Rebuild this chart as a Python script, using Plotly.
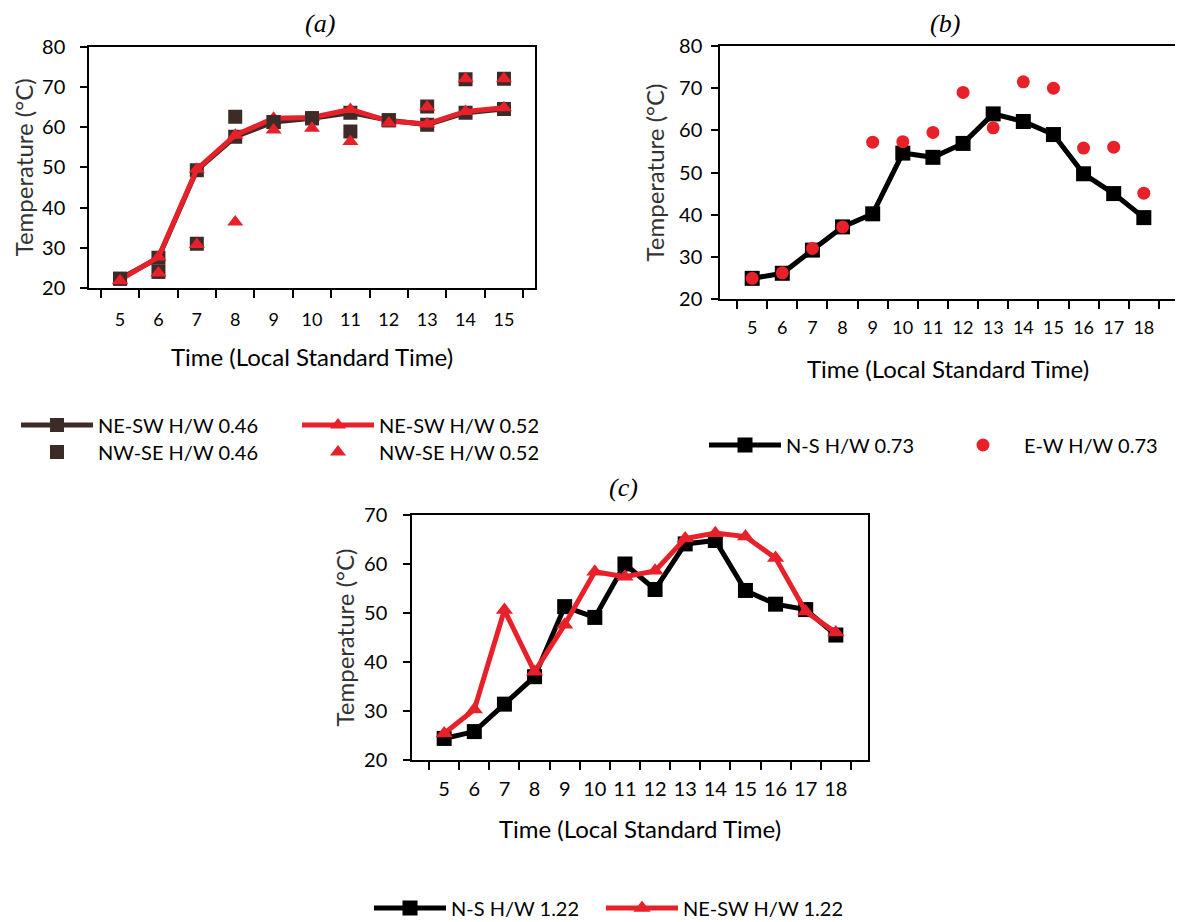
import plotly.graph_objects as go

# ---------------- data ----------------
hours_a = ["5", "6", "7", "8", "9", "10", "11", "12", "13", "14", "15"]
ne_sw_046 = [22.3, 27.5, 49.3, 57.6, 61.3, 62.2, 63.6, 61.7, 60.6, 63.6, 64.5]
ne_sw_052 = [22.0, 27.7, 49.5, 58.0, 62.2, 62.4, 64.4, 61.5, 60.8, 63.9, 64.8]
nw_se_046 = [22.3, 24.0, 31.0, 62.6, 61.3, 62.2, 58.9, 61.7, 65.1, 71.9, 72.0]
nw_se_052 = [21.8, 23.7, 30.8, 36.4, 59.3, 59.7, 56.4, 61.0, 65.0, 72.0, 72.0]

hours_bc = ["5", "6", "7", "8", "9", "10", "11", "12", "13", "14", "15", "16", "17", "18"]
ns_073 = [24.9, 26.1, 31.6, 37.1, 40.2, 54.6, 53.6, 56.9, 63.9, 62.1, 59.0, 49.7, 45.0, 39.3]
ew_073 = [24.9, 26.2, 32.0, 37.1, 57.2, 57.3, 59.5, 69.0, 60.6, 71.5, 70.0, 55.8, 56.0, 45.1]

ns_122 = [24.4, 25.8, 31.4, 37.0, 51.3, 49.1, 60.0, 54.8, 64.1, 64.8, 54.6, 51.8, 50.7, 45.5]
ne_sw_122 = [25.4, 30.3, 50.6, 38.0, 47.6, 58.4, 57.4, 58.6, 65.2, 66.3, 65.6, 61.2, 50.3, 46.0]

BROWN = "#3d2b27"
RED = "#e8202a"
BLACK = "#000000"
FONT = "Lato"

# page body has an 8px margin, so the figure is drawn 8px in from the window edge
OFF = 8
W, H = 1183 - OFF, 922 - OFF


def px(x):
    return (x - OFF) / W


def py(y):
    return 1 - (y - OFF) / H


fig = go.Figure()

# ---------- panel (a) ----------
fig.add_trace(go.Scatter(x=hours_a, y=ne_sw_046, mode="lines+markers", name="NE-SW H/W 0.46",
                         line=dict(color=BROWN, width=5),
                         marker=dict(symbol="square", size=14, color=BROWN),
                         xaxis="x", yaxis="y", legend="legend"))
fig.add_trace(go.Scatter(x=hours_a, y=ne_sw_052, mode="lines+markers", name="NE-SW H/W 0.52",
                         line=dict(color=RED, width=5),
                         marker=dict(symbol="triangle-up", size=14, color=RED),
                         xaxis="x", yaxis="y", legend="legend"))
fig.add_trace(go.Scatter(x=hours_a, y=nw_se_046, mode="markers", name="NW-SE H/W 0.46",
                         marker=dict(symbol="square", size=14, color=BROWN),
                         xaxis="x", yaxis="y", legend="legend2"))
fig.add_trace(go.Scatter(x=hours_a, y=nw_se_052, mode="markers", name="NW-SE H/W 0.52",
                         marker=dict(symbol="triangle-up", size=14, color=RED),
                         xaxis="x", yaxis="y", legend="legend2"))

# ---------- panel (b) ----------
fig.add_trace(go.Scatter(x=hours_bc, y=ns_073, mode="lines+markers", name="N-S H/W 0.73",
                         line=dict(color=BLACK, width=5),
                         marker=dict(symbol="square", size=15, color=BLACK),
                         xaxis="x2", yaxis="y2", legend="legend3"))
fig.add_trace(go.Scatter(x=hours_bc, y=ew_073, mode="markers", name="E-W H/W 0.73",
                         marker=dict(symbol="circle", size=13, color=RED),
                         xaxis="x2", yaxis="y2", legend="legend3"))

# ---------- panel (c) ----------
fig.add_trace(go.Scatter(x=hours_bc, y=ns_122, mode="lines+markers", name="N-S H/W 1.22",
                         line=dict(color=BLACK, width=5),
                         marker=dict(symbol="square", size=15, color=BLACK),
                         xaxis="x3", yaxis="y3", legend="legend4"))
fig.add_trace(go.Scatter(x=hours_bc, y=ne_sw_122, mode="lines+markers", name="NE-SW H/W 1.22",
                         line=dict(color=RED, width=5),
                         marker=dict(symbol="triangle-up", size=15, color=RED),
                         xaxis="x3", yaxis="y3", legend="legend5"))


def xax(domain, anchor, tick_size, label_off, title_off):
    return dict(domain=domain, anchor=anchor, type="category", tickson="boundaries",
                tickangle=0,
                showline=True, linecolor="black", linewidth=1.5, mirror=True,
                ticks="outside", ticklen=8, tickcolor="black", tickwidth=1.5,
                showgrid=False, zeroline=False, ticklabelstandoff=label_off,
                tickfont=dict(family=FONT, size=tick_size, color="black"),
                title=dict(text="Time (Local Standard Time)", standoff=title_off,
                           font=dict(family=FONT, size=24, color="black")))


def yax(domain, anchor, rng, label_off, title_off):
    return dict(domain=domain, anchor=anchor, range=rng, dtick=10,
                showline=True, linecolor="black", linewidth=1.5, mirror=True,
                ticks="outside", ticklen=7, tickcolor="black", tickwidth=1.5,
                showgrid=False, zeroline=False, ticklabelstandoff=label_off,
                tickfont=dict(family=FONT, size=20, color="black"),
                title=dict(text="Temperature (°C)", standoff=title_off,
                           font=dict(family=FONT, size=24, color="#333333")))


legend_common = dict(orientation="h", bgcolor="rgba(0,0,0,0)",
                     font=dict(family=FONT, size=20, color="black"),
                     itemwidth=72, xanchor="left", yanchor="middle",
                     traceorder="normal")

fig.update_layout(
    width=W, height=H,
    margin=dict(l=0, r=0, t=0, b=0, autoexpand=False),
    paper_bgcolor="white", plot_bgcolor="white",
    showlegend=True,
    xaxis=xax([px(89), px(535)], "y", 18, 15, 20),
    yaxis=yax([py(288), py(46.7)], "x", [20, 80], 11, 2),
    xaxis2=xax([px(720), px(1176)], "y2", 18, 12, 24),
    yaxis2=yax([py(299), py(46)], "x2", [20, 80], 5, 8),
    xaxis3=xax([px(412), px(868)], "y3", 20, 10, 22),
    yaxis3=yax([py(760), py(515)], "x3", [20, 70], 12, 3),
    legend=dict(legend_common, x=px(16), y=py(425), entrywidth=194, entrywidthmode="pixels"),
    legend2=dict(legend_common, x=px(16), y=py(452), entrywidth=194, entrywidthmode="pixels"),
    legend3=dict(legend_common, x=px(704), y=py(445), entrywidth=151, entrywidthmode="pixels"),
    legend4=dict(legend_common, x=px(369), y=py(908)),
    legend5=dict(legend_common, x=px(601), y=py(908)),
    annotations=[
        dict(text="<i>(a)</i>", x=px(320), y=py(24), xref="paper", yref="paper",
             xanchor="center", yanchor="middle", showarrow=False,
             font=dict(family="Liberation Serif", size=26, color="black")),
        dict(text="<i>(b)</i>", x=px(945), y=py(24), xref="paper", yref="paper",
             xanchor="center", yanchor="middle", showarrow=False,
             font=dict(family="Liberation Serif", size=26, color="black")),
        dict(text="<i>(c)</i>", x=px(623), y=py(487), xref="paper", yref="paper",
             xanchor="center", yanchor="middle", showarrow=False,
             font=dict(family="Liberation Serif", size=26, color="black")),
    ],
)

fig.write_html("out.html")
